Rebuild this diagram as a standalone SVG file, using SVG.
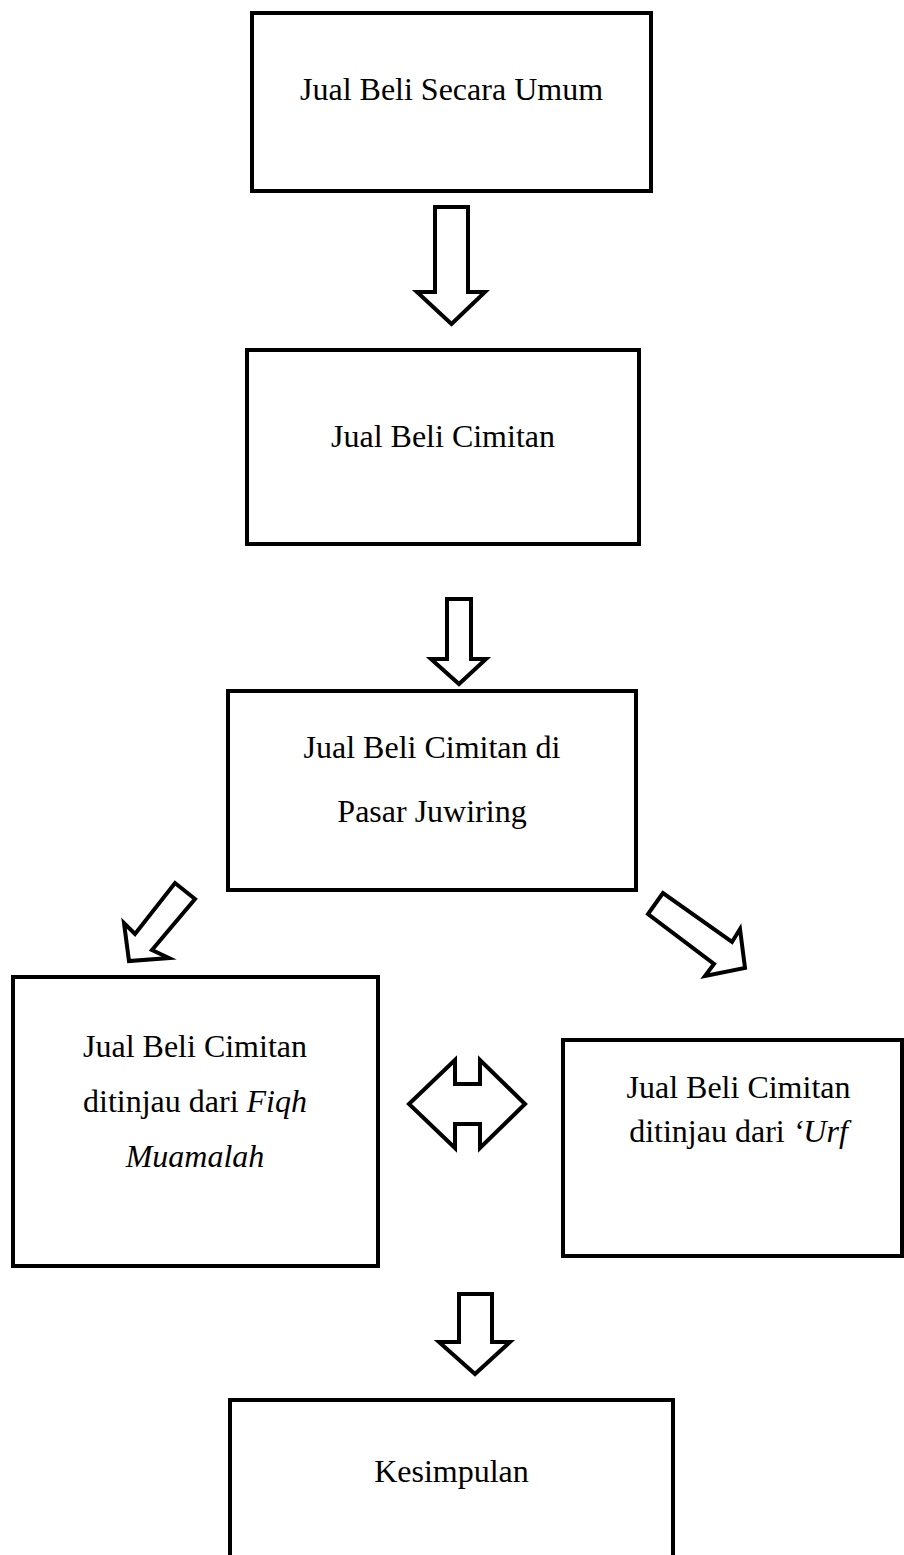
<svg xmlns="http://www.w3.org/2000/svg" width="904" height="1555" viewBox="0 0 904 1555">
<style>
.box{fill:#fff;stroke:#000;stroke-width:4}
.arr{fill:#fff;stroke:#000;stroke-width:4;stroke-linejoin:miter}
.t{font-family:"Liberation Serif","Times New Roman",serif;font-size:32px;fill:#000;text-anchor:middle}
.i{font-style:italic}
</style>
<rect width="904" height="1555" fill="#fff"/>
<g id="connectors">
<path class="arr" d="M435,207 H468 V292 H485 L451.5,324 L417,292 H435 Z"/>
<path class="arr" d="M447,599 H471 V659 H486 L459,684 L431,659 H447 Z"/>
<path class="arr" d="M175,883 L195,899 L152,950 L169,958 L129,961 L124,923 L135,934 Z"/>
<path class="arr" d="M663,893 L648,914 L714,964 L705,976 L745,968 L740,929 L732,942 Z"/>
<path class="arr" d="M409,1104 L455,1060 V1084 H480 V1060 L525,1104 L480,1148 V1124 H455 V1148 Z"/>
<path class="arr" d="M459,1294 H492 V1342 H510 L475,1374 L439,1342 H459 Z"/>
</g>
<g id="n1">
<rect class="box" x="252" y="13" width="399" height="178"/>
<text class="t" x="451.5" y="100">Jual Beli Secara Umum</text>
</g>
<g id="n2">
<rect class="box" x="247" y="350" width="392" height="194"/>
<text class="t" x="443" y="447">Jual Beli Cimitan</text>
</g>
<g id="n3">
<rect class="box" x="228" y="691" width="408" height="199"/>
<text class="t" x="432" y="758">Jual Beli Cimitan di</text>
<text class="t" x="432" y="822">Pasar Juwiring</text>
</g>
<g id="n4">
<rect class="box" x="13" y="977" width="365" height="289"/>
<text class="t" x="195" y="1057">Jual Beli Cimitan</text>
<text class="t" x="195" y="1112">ditinjau dari <tspan class="i">Fiqh</tspan></text>
<text class="t i" x="195" y="1167">Muamalah</text>
</g>
<g id="n5">
<rect class="box" x="563" y="1040" width="339" height="216"/>
<text class="t" x="738.5" y="1098">Jual Beli Cimitan</text>
<text class="t" x="738.5" y="1142">ditinjau dari  <tspan class="i">‘Urf</tspan></text>
</g>
<g id="n6">
<rect class="box" x="230" y="1400" width="443" height="170"/>
<text class="t" x="451.5" y="1482">Kesimpulan</text>
</g>
</svg>
